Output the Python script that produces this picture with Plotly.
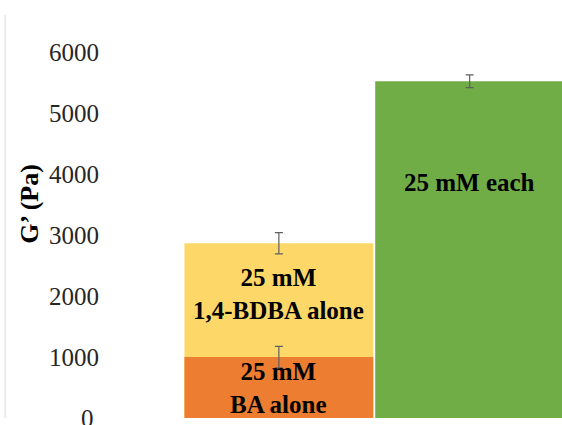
import plotly.graph_objects as go

# G' of the gels, Pa
positions = [0, 1]
ba_alone = [1000]
ba_alone_err = [175]
bdba_alone = [2870]
bdba_alone_err = [175]
each = [5530]
each_err = [105]

bar_labels = ["25 mM<br>BA alone", "25 mM<br>1,4-BDBA alone", "25 mM each"]
y_ticks = [0, 1000, 2000, 3000, 4000, 5000, 6000]

serif = "Liberation Serif"
tick_font = dict(family=serif, size=25, color="#262626")
err_style = dict(type="data", color="#5f5f5f", thickness=1.2, width=4)

fig = go.Figure()
fig.add_trace(go.Bar(
    x=[positions[0]], y=bdba_alone, width=0.99,
    marker=dict(color="#FDD868", line=dict(width=0)),
    error_y=dict(array=bdba_alone_err, **err_style),
    showlegend=False,
))
fig.add_trace(go.Bar(
    x=[positions[0]], y=ba_alone, width=0.99,
    marker=dict(color="#ED7D31", line=dict(width=0)),
    error_y=dict(array=ba_alone_err, **err_style),
    showlegend=False,
))
fig.add_trace(go.Bar(
    x=[positions[1]], y=each, width=0.99,
    marker=dict(color="#70AD47", line=dict(width=0)),
    error_y=dict(array=each_err, **err_style),
    showlegend=False,
))

label_font = dict(family=serif, size=25, color="black")
fig.add_annotation(x=positions[0], y=495, text="<b>" + bar_labels[0] + "</b>",
                   showarrow=False, font=label_font)
fig.add_annotation(x=positions[0], y=2030, text="<b>" + bar_labels[1] + "</b>",
                   showarrow=False, font=label_font)
fig.add_annotation(x=positions[1], y=3860, text="<b>" + bar_labels[2] + "</b>",
                   showarrow=False, font=label_font)

# y-axis title
fig.add_annotation(xref="paper", yref="paper", x=-0.177, y=0.525,
                   xanchor="center", yanchor="middle",
                   text="<b>G\u2019 (Pa)</b>", textangle=-90, showarrow=False,
                   font=dict(family=serif, size=26, color="black"))

# bottom tick label, drawn separately so it is not dropped at the edge
fig.add_annotation(xref="paper", yref="y", x=-0.031, y=y_ticks[0],
                   xanchor="right", yanchor="middle", text=str(y_ticks[0]),
                   showarrow=False, font=tick_font)

# thin frame line at the left edge
fig.add_shape(type="line", xref="paper", yref="paper",
              x0=-0.232, x1=-0.232, y0=0, y1=0.988,
              line=dict(color="#d9d9d9", width=1))

fig.update_layout(
    width=562, height=425,
    margin=dict(l=110, r=0, t=10, b=7),
    barmode="overlay",
    font=dict(family=serif),
    plot_bgcolor="white", paper_bgcolor="white",
    xaxis=dict(range=[-0.885, 1.484], showticklabels=False, showgrid=False,
               zeroline=False, showline=False, ticks=""),
    yaxis=dict(range=[0, 6700], tickvals=y_ticks[1:], showgrid=False,
               zeroline=False, showline=False, ticks="",
               ticklabelstandoff=10, tickfont=tick_font),
)

fig.write_html("out.html")
